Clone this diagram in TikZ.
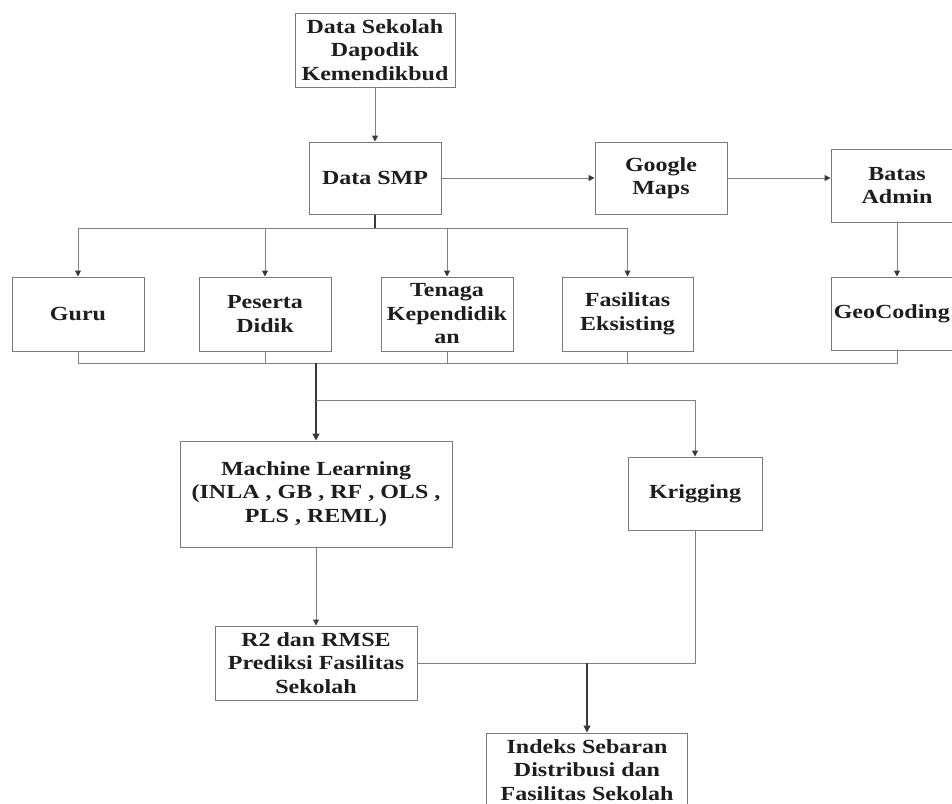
\documentclass[tikz,border=0pt]{standalone}
\usepackage{fontspec}
\setmainfont{Liberation Serif}[FakeStretch=1.2]
\usetikzlibrary{arrows.meta}
\definecolor{boxgray}{HTML}{7A7A7A}
\definecolor{linegray}{HTML}{808080}
\definecolor{darkline}{HTML}{3A3A3A}
\definecolor{txt}{HTML}{1E1E1E}
\tikzset{
  box/.style={draw=boxgray, line width=1pt, fill=white, align=center, inner sep=0pt,
    text=txt, font=\bfseries\fontsize{20}{23.5}\selectfont},
  lbl/.style={align=center, inner sep=0pt, text=txt, font=\bfseries\fontsize{20}{23.5}\selectfont},
  conn/.style={draw=linegray, line width=1pt},
  arr/.style={conn, -{Triangle[length=6pt,width=6pt]}, arrows={[color=darkline]}},
  trunk/.style={draw=darkline, line width=1.6pt}
}
\begin{document}
\begin{tikzpicture}[x=1pt,y=-1pt]
\clip (0,0) rectangle (952,803);
\fill[white] (0,0) rectangle (952,803);
% nodes
\node[box, minimum width=160, minimum height=74] (ds) at (375,50) {Data Sekolah\\Dapodik\\Kemendikbud};
\node[box, minimum width=132, minimum height=72] (smp) at (375,178) {Data SMP};
\node[box, minimum width=132, minimum height=72] (gm) at (661,178) {Google\\Maps};
\node[box, minimum width=132, minimum height=73] (ba) at (897,185.5) {Batas\\Admin};
\node[box, minimum width=132, minimum height=74] (guru) at (78,314) {Guru};
\node[box, minimum width=132, minimum height=74] (pd) at (265,314) {Peserta\\Didik};
\node[box, minimum width=132, minimum height=74] (tk) at (447,314) {Tenaga\\Kependidik\\an};
\node[box, minimum width=131, minimum height=74] (fe) at (627.5,314) {Fasilitas\\Eksisting};
\node[box, minimum width=132, minimum height=73] (geo) at (897,313.5) {};
\node[lbl, anchor=east] (geot) at (950,313.5) {GeoCoding};
\node[box, minimum width=272, minimum height=106] (ml) at (316,494) {Machine Learning\\(INLA , GB , RF , OLS ,\\PLS , REML)};
\node[box, minimum width=134, minimum height=73] (kr) at (695,493.5) {Krigging};
\node[box, minimum width=202, minimum height=74] (r2) at (316,663) {R2 dan RMSE\\Prediksi Fasilitas\\Sekolah};
\node[box, minimum width=201, minimum height=74] (ix) at (587,770) {Indeks Sebaran\\Distribusi dan\\Fasilitas Sekolah};
% coordinates
\coordinate (b1) at (375,228);
\coordinate (b2) at (316,363);
\coordinate (b3) at (316,400);
\coordinate (j) at (587,663);
% top connectors
\draw[arr] (ds) -- (smp);
\draw[arr] (smp) -- (gm);
\draw[arr] (gm.east) -- (gm.east -| ba.west);
\draw[arr] (ba) -- (geo);
% upper bus
\draw[conn] (guru.north |- b1) -- (fe.north |- b1);
\draw[trunk] (smp.south) -- (b1);
\draw[arr] (guru.north |- b1) -- (guru.north);
\draw[arr] (pd.north |- b1) -- (pd.north);
\draw[arr] (tk.north |- b1) -- (tk.north);
\draw[arr] (fe.north |- b1) -- (fe.north);
% lower bus
\draw[conn] (guru.south) -- (guru.south |- b2) -- (geo.south |- b2) -- (geo.south);
\draw[conn] (pd.south) -- (pd.south |- b2);
\draw[conn] (tk.south) -- (tk.south |- b2);
\draw[conn] (fe.south) -- (fe.south |- b2);
\draw[trunk, -{Triangle[length=7pt,width=7pt]}] (b2) -- (ml.north);
\draw[arr] (b3) -- (b3 -| kr.north) -- (kr.north);
% lower part
\draw[arr] (ml) -- (r2);
\draw[conn] (r2.east) -- (j);
\draw[conn] (kr.south) -- (kr.south |- j) -- (j);
\draw[trunk, line width=1.3pt, -{Triangle[length=7pt,width=7pt]}] (j) -- (ix.north);
\end{tikzpicture}
\end{document}
